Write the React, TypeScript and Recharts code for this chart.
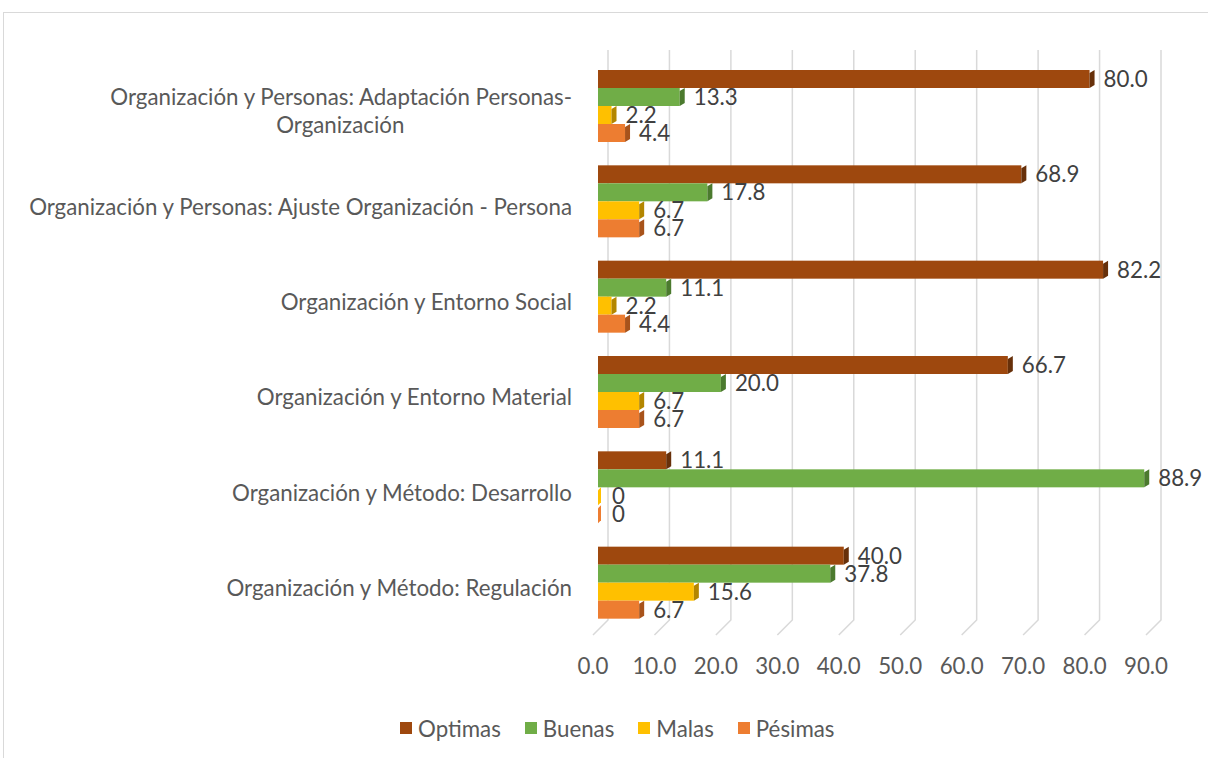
import React from 'react';
import { BarChart, Bar, XAxis, YAxis, CartesianGrid, Legend, LabelList } from 'recharts';

const categories = [
  'Organización y Personas: Adaptación Personas-Organización',
  'Organización y Personas: Ajuste Organización - Persona',
  'Organización y Entorno Social',
  'Organización y Entorno Material',
  'Organización y Método: Desarrollo',
  'Organización y Método: Regulación',
];
const optimas = [80.0, 68.9, 82.2, 66.7, 11.1, 40.0];
const buenas = [13.3, 17.8, 11.1, 20.0, 88.9, 37.8];
const malas = [2.2, 6.7, 2.2, 6.7, 0, 15.6];
const pesimas = [4.4, 6.7, 4.4, 6.7, 0, 6.7];
const xTicks = [0, 10, 20, 30, 40, 50, 60, 70, 80, 90];

const series = [
  { key: 'optimas', name: 'Optimas', color: '#9E480E', side: '#67300a' },
  { key: 'buenas', name: 'Buenas', color: '#70AD47', side: '#4b7a2e' },
  { key: 'malas', name: 'Malas', color: '#FFC000', side: '#b38600' },
  { key: 'pesimas', name: 'Pésimas', color: '#ED7D31', side: '#a8531b' },
];

const data = categories.map((category, i) => ({
  category,
  optimas: optimas[i],
  buenas: buenas[i],
  malas: malas[i],
  pesimas: pesimas[i],
}));

const FONT = 'Lato, "Open Sans", sans-serif';
const TEXT = '#595959';
const FONT_SIZE = 22.3;

let ctx: CanvasRenderingContext2D | null = null;
function measure(text: string) {
  if (!ctx) ctx = document.createElement('canvas').getContext('2d');
  if (!ctx) return text.length * FONT_SIZE * 0.5;
  ctx.font = `${FONT_SIZE}px Lato`;
  return ctx.measureText(text).width;
}

// greedy wrap, breaking after spaces or hyphens
function wrap(text: string, max: number) {
  const parts = text.split(/(?<=[\s-])/);
  const lines: string[] = [];
  let cur = '';
  parts.forEach(p => {
    if (cur && (cur + p).trimEnd().length > max) {
      lines.push(cur.trimEnd());
      cur = p;
    } else cur += p;
  });
  if (cur) lines.push(cur.trimEnd());
  return lines;
}

const CategoryTick = (props: any) => {
  const { x, y, payload } = props;
  const lines = wrap(payload.value, 56);
  const lh = 28;
  const y0 = y + 5 - ((lines.length - 1) * lh) / 2;
  const mid = x - measure(lines[0]) / 2;
  return (
    <g>
      {lines.map((l, i) => (
        <text
          key={i}
          x={i === 0 ? x : mid}
          y={y0 + i * lh}
          textAnchor={i === 0 ? 'end' : 'middle'}
          dominantBaseline="central"
          fill={TEXT}
          fontSize={FONT_SIZE}
          fontFamily={FONT}
        >
          {l}
        </text>
      ))}
    </g>
  );
};

const ValueTick = (props: any) => {
  const { x, y, payload } = props;
  return (
    <text x={x - 5} y={y + 35} textAnchor="middle" dominantBaseline="central"
      fill={TEXT} fontSize={FONT_SIZE} fontFamily={FONT}>
      {payload.value.toFixed(1)}
    </text>
  );
};

const GridLine = (props: any) => {
  const { x1, y1, y2 } = props;
  return (
    <polyline
      points={`${x1 + 10},${y1 - 8} ${x1 + 10},${y2 - 10} ${x1 - 5},${y2 + 5}`}
      fill="none"
      stroke="#d9d9d9"
      strokeWidth={1.5}
    />
  );
};

const makeShape = (color: string, side: string) => (props: any) => {
  const { x, y, width, height } = props;
  const w = Math.max(width || 0, 0);
  const d = w > 0 ? 5 : 3;
  return (
    <g>
      <rect x={x} y={y} width={w} height={height} fill={color} />
      <polygon
        points={`${x + w},${y + 3} ${x + w + d},${y} ${x + w + d},${y + height - 3} ${x + w},${y + height}`}
        fill={w > 0 ? side : color}
      />
    </g>
  );
};

const LegendContent = () => (
  <div style={{ display: 'flex', height: 30, alignItems: 'center', paddingLeft: 400, fontFamily: FONT }}>
    {series.map(s => (
      <div key={s.key} style={{ display: 'flex', alignItems: 'center', marginRight: 24 }}>
        <span style={{ width: 12, height: 12, background: s.color, marginRight: 6 }} />
        <span style={{ color: TEXT, fontSize: FONT_SIZE }}>{s.name}</span>
      </div>
    ))}
  </div>
);

const fmt = (v: any) => (Number(v) === 0 ? '0' : Number(v).toFixed(1));

export default function App() {
  return (
    <div style={{ position: 'absolute', left: 0, top: 0, width: 1208, height: 758, overflow: 'hidden', background: '#fff' }}>
      <div style={{ position: 'absolute', left: 3, top: 12, width: 1400, height: 900, border: '1.5px solid #d9d9d9' }} />
      <div style={{ position: 'absolute', left: 0, top: 0 }}>
        <BarChart
          width={1208}
          height={758}
          data={data}
          layout="vertical"
          margin={{ top: 58, right: 57, left: 0, bottom: 15 }}
          barCategoryGap={0}
          barGap={0}
          barSize={18}
        >
          <CartesianGrid horizontal={false} vertical={GridLine} />
          <XAxis
            type="number"
            domain={[0, 90]}
            ticks={xTicks}
            axisLine={false}
            tickLine={false}
            tickSize={0}
            tickMargin={0}
            height={83}
            tick={<ValueTick />}
          />
          <YAxis
            type="category"
            dataKey="category"
            width={598}
            axisLine={false}
            tickLine={false}
            tickSize={0}
            tickMargin={26}
            interval={0}
            tick={<CategoryTick />}
          />
          <Legend verticalAlign="bottom" content={<LegendContent />} />
          {series.map(s => (
            <Bar
              key={s.key}
              dataKey={s.key}
              name={s.name}
              fill={s.color}
              shape={makeShape(s.color, s.side)}
              isAnimationActive={false}
            >
              <LabelList
                dataKey={s.key}
                position="right"
                offset={14}
                formatter={fmt}
                fill="#404040"
                fontSize={FONT_SIZE}
                fontFamily={FONT}
              />
            </Bar>
          ))}
        </BarChart>
      </div>
    </div>
  );
}
